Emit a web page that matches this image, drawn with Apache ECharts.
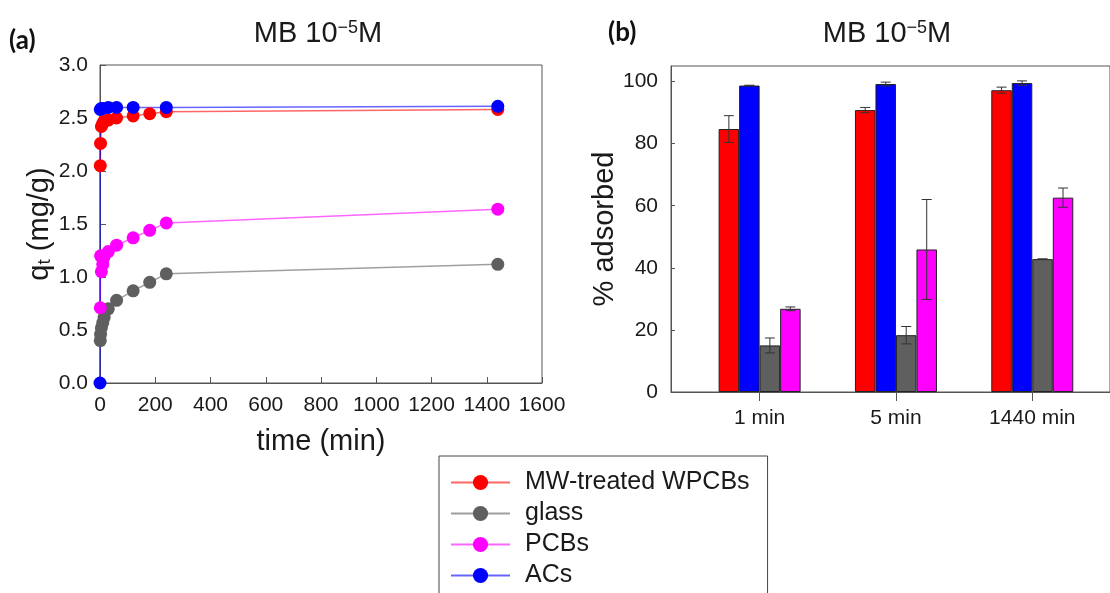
<!DOCTYPE html>
<html>
<head>
<meta charset="utf-8">
<script src="https://cdn.jsdelivr.net/npm/echarts@6/dist/echarts.min.js"></script>
<style>
  html, body { margin: 0; padding: 0; background: #fff; }
  #chart { width: 1110px; height: 593px; }
</style>
</head>
<body>
<div id="chart"></div>
<script>
// (a) 吸附动力学 q_t (mg/g)
const seriesNames = ['MW-treated WPCBs', 'glass', 'PCBs', 'ACs']
const timeSamples = [1, 2, 5, 10, 15, 30, 60, 120, 180, 240, 1440]
const qMW = [2.05, 2.26, 2.42, 2.45, 2.47, 2.48, 2.50, 2.52, 2.54, 2.56, 2.58]
const qGlass = [0.40, 0.46, 0.52, 0.57, 0.62, 0.70, 0.78, 0.87, 0.95, 1.03, 1.12]
const qPCB = [0.71, 1.20, 1.05, 1.12, 1.19, 1.24, 1.30, 1.37, 1.44, 1.51, 1.64]
const timeAC = [0, 1, 5, 10, 30, 60, 120, 240, 1440]
const qAC = [0, 2.58, 2.59, 2.59, 2.60, 2.60, 2.60, 2.60, 2.61]

// (b) % adsorbed
const timeLabels = ['1 min', '5 min', '1440 min']
const timeSlots = [1, 2, 3]
const adsMW = [84.7, 90.8, 97.2]
const errMW = [4.3, 0.85, 1.0]
const adsAC = [98.7, 99.2, 99.5]
const errAC = [0.1, 0.6, 0.7]
const adsGlass = [15.0, 18.3, 42.8]
const errGlass = [2.4, 2.8, 0.1]
const adsPCB = [26.8, 45.9, 62.6]
const errPCB = [0.6, 16.1, 3.1]

const FONT = "'Liberation Sans', Arial, sans-serif"
const TEXT = '#1a1a1a'
const AXIS = '#555'
const BAR_W = 20.5
const colors = ['#ff0000', '#5f5f5f', '#ff00ff', '#0000ff']

let chart = echarts.init(document.getElementById('chart'))

function lineSeries(name, xs, ys, color) {
  return {
    name: name,
    type: 'line',
    xAxisIndex: 0,
    yAxisIndex: 0,
    data: xs.map((x, i) => [x, ys[i]]),
    symbol: 'circle',
    symbolSize: 13,
    itemStyle: { color: color },
    lineStyle: { color: color, width: 1.5, opacity: 0.6 },
    emphasis: { disabled: true },
  }
}

function barSeries(name, vals, color) {
  return {
    name: name,
    type: 'bar',
    xAxisIndex: 1,
    yAxisIndex: 1,
    data: timeSlots.map((x, i) => [x, vals[i]]),
    barWidth: BAR_W,
    barGap: '0%',
    itemStyle: { color: color, borderColor: '#222', borderWidth: 1 },
    emphasis: { disabled: true },
  }
}

// 误差棒
function errorSeries(vals, errs, slot) {
  return {
    type: 'custom',
    xAxisIndex: 1,
    yAxisIndex: 1,
    data: timeSlots.map((x, i) => [x, vals[i] - errs[i], vals[i] + errs[i]]),
    encode: { x: 0, y: [1, 2] },
    z: 10,
    renderItem: function (params, api) {
      let lo = api.coord([api.value(0), api.value(1)])
      let hi = api.coord([api.value(0), api.value(2)])
      let x = lo[0] + (slot - 1.5) * BAR_W
      let style = { stroke: '#333', lineWidth: 1 }
      return {
        type: 'group',
        children: [
          { type: 'line', shape: { x1: x, y1: lo[1], x2: x, y2: hi[1] }, style: style },
          { type: 'line', shape: { x1: x - 5, y1: lo[1], x2: x + 5, y2: lo[1] }, style: style },
          { type: 'line', shape: { x1: x - 5, y1: hi[1], x2: x + 5, y2: hi[1] }, style: style },
        ],
      }
    },
  }
}

function titleText(x) {
  return {
    type: 'text',
    x: x,
    y: 19,
    style: {
      text: '{n|MB 10}{s|\u22125}{n|M}',
      align: 'center',
      verticalAlign: 'top',
      fill: TEXT,
      rich: {
        n: { fontSize: 29, fontFamily: FONT, fill: TEXT },
        s: { fontSize: 18, fontFamily: FONT, fill: TEXT, verticalAlign: 'top' },
      },
    },
  }
}

function panelTag(text, x, y) {
  return {
    type: 'text',
    x: x,
    y: y,
    style: {
      text: text,
      fill: '#111',
      font: "bold 26px Lato, 'Open Sans', sans-serif",
      verticalAlign: 'middle',
    },
  }
}

let option = {
  animation: false,
  backgroundColor: '#fff',
  graphic: [
    titleText(318),
    titleText(887),
    panelTag('(a)', 9, 41),
    panelTag('(b)', 608, 33),
  ],
  legend: {
    data: seriesNames,
    orient: 'vertical',
    left: 439,
    top: 456,
    height: 200,
    padding: [14, 18, 40, 11],
    itemWidth: 59,
    itemHeight: 19,
    itemGap: 6,
    borderColor: '#444',
    borderWidth: 1,
    selectedMode: false,
    textStyle: { fontSize: 25, fontFamily: FONT, color: TEXT, padding: [0, 0, 0, 10] },
  },
  grid: [
    { left: 100, top: 65, width: 442, height: 318, show: true, borderColor: AXIS, borderWidth: 1 },
    { left: 671, top: 66, width: 440, height: 326, show: true, borderColor: AXIS, borderWidth: 1 },
  ],
  xAxis: [
    {
      type: 'value',
      gridIndex: 0,
      min: 0,
      max: 1600,
      interval: 200,
      axisLine: { lineStyle: { color: AXIS } },
      axisTick: { inside: true, length: 6, lineStyle: { color: AXIS } },
      axisLabel: { fontSize: 21, fontFamily: FONT, color: TEXT, margin: 12, formatter: (v) => String(v) },
      splitLine: { show: false },
      name: 'time (min)',
      nameLocation: 'middle',
      nameGap: 44,
      nameTextStyle: { fontSize: 29, fontFamily: FONT, color: TEXT },
    },
    {
      type: 'value',
      gridIndex: 1,
      min: 0.35,
      max: 3.57,
      axisLine: { lineStyle: { color: AXIS } },
      axisTick: { customValues: timeSlots, length: 9, lineStyle: { color: AXIS } },
      axisLabel: {
        customValues: timeSlots,
        fontSize: 21,
        fontFamily: FONT,
        color: TEXT,
        margin: 16,
        formatter: (v) => timeLabels[Math.round(v) - 1],
      },
      splitLine: { show: false },
    },
  ],
  yAxis: [
    {
      type: 'value',
      gridIndex: 0,
      min: 0,
      max: 3,
      interval: 0.5,
      axisLine: { lineStyle: { color: AXIS } },
      axisTick: { inside: true, length: 6, lineStyle: { color: AXIS } },
      axisLabel: {
        fontSize: 21,
        fontFamily: FONT,
        color: TEXT,
        margin: 12,
        formatter: (v) => v.toFixed(1),
      },
      splitLine: { show: false },
      name: '{a|q}{b|t}{a| (mg/g)}',
      nameLocation: 'middle',
      nameGap: 46,
      nameTextStyle: {
        color: TEXT,
        rich: {
          a: { fontSize: 29, fontFamily: FONT, color: TEXT },
          b: { fontSize: 19, fontFamily: FONT, color: TEXT, verticalAlign: 'bottom' },
        },
      },
    },
    {
      type: 'value',
      gridIndex: 1,
      min: 0,
      max: 105,
      interval: 20,
      axisLine: { lineStyle: { color: AXIS } },
      axisTick: { inside: true, length: 4, lineStyle: { color: AXIS } },
      axisLabel: { fontSize: 21, fontFamily: FONT, color: TEXT, margin: 13, showMaxLabel: false },
      splitLine: { show: false },
      name: '% adsorbed',
      nameLocation: 'middle',
      nameGap: 46,
      nameTextStyle: { fontSize: 29, fontFamily: FONT, color: TEXT },
    },
  ],
  series: [
    lineSeries(seriesNames[0], timeSamples, qMW, colors[0]),
    lineSeries(seriesNames[1], timeSamples, qGlass, colors[1]),
    lineSeries(seriesNames[2], timeSamples, qPCB, colors[2]),
    lineSeries(seriesNames[3], timeAC, qAC, colors[3]),
    barSeries(seriesNames[0], adsMW, colors[0]),
    barSeries(seriesNames[3], adsAC, colors[3]),
    barSeries(seriesNames[1], adsGlass, colors[1]),
    barSeries(seriesNames[2], adsPCB, colors[2]),
    errorSeries(adsMW, errMW, 0),
    errorSeries(adsAC, errAC, 1),
    errorSeries(adsGlass, errGlass, 2),
    errorSeries(adsPCB, errPCB, 3),
  ],
}
chart.setOption(option)
</script>
</body>
</html>
